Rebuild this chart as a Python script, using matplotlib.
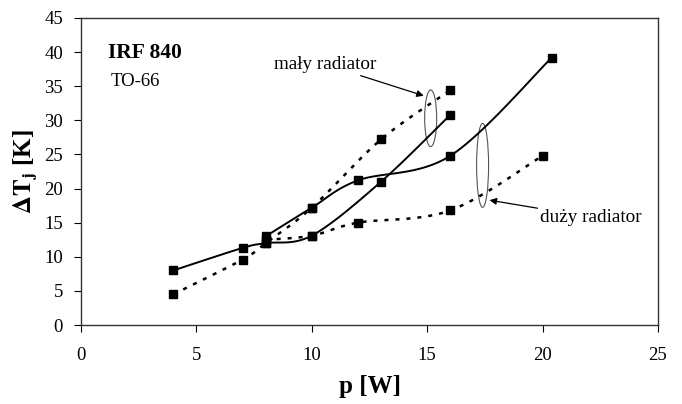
import numpy as np
import matplotlib
matplotlib.use("Agg")
import matplotlib.pyplot as plt
from matplotlib.patches import Ellipse

# values
maly_dot_x = [4, 7, 8, 10, 13, 16]
maly_dot_y = [4.5, 9.6, 12.0, 17.2, 27.2, 34.4]
maly_sol_x = [4, 7, 8, 10, 13, 16]
maly_sol_y = [8.0, 11.3, 12.0, 13.1, 21.0, 30.8]
duzy_sol_x = [8, 10, 12, 16, 20.4]
duzy_sol_y = [13.0, 17.2, 21.2, 24.8, 39.2]
duzy_dot_x = [8, 10, 12, 16, 20]
duzy_dot_y = [12.5, 13.1, 15.0, 16.8, 24.8]

x_ticks = [0, 5, 10, 15, 20, 25]
y_ticks = [0, 5, 10, 15, 20, 25, 30, 35, 40, 45]

plt.rcParams['font.family'] = ['Liberation Serif', 'DejaVu Serif']
plt.rcParams['mathtext.fontset'] = 'stix'


def smooth(xs, ys, n=30):
    """Excel-style smoothed line (Catmull-Rom as cubic Bezier)."""
    p = np.column_stack([xs, ys]).astype(float)
    p = np.vstack([p[0], p, p[-1]])
    t = np.linspace(0, 1, n)[:, None]
    out = []
    for i in range(1, len(p) - 2):
        p0, p1, p2, p3 = p[i - 1], p[i], p[i + 1], p[i + 2]
        c1 = p1 + (p2 - p0) / 6
        c2 = p2 - (p3 - p1) / 6
        seg = ((1 - t) ** 3) * p1 + 3 * ((1 - t) ** 2) * t * c1 \
            + 3 * (1 - t) * t ** 2 * c2 + t ** 3 * p2
        out.append(seg)
    seg = np.vstack(out)
    return seg[:, 0], seg[:, 1]


fig = plt.figure(figsize=(6.82, 4.04), dpi=100)
ax = fig.add_axes([0.1188, 0.1955, 0.846, 0.76])

dot = (0, (1.6, 2.8))
for xs, ys, ls, lw in [(maly_dot_x, maly_dot_y, dot, 1.8),
                       (maly_sol_x, maly_sol_y, '-', 1.4),
                       (duzy_sol_x, duzy_sol_y, '-', 1.4),
                       (duzy_dot_x, duzy_dot_y, dot, 1.8)]:
    sx, sy = smooth(xs, ys)
    ax.plot(sx, sy, color='black', linestyle=ls, linewidth=lw)
    ax.plot(xs, ys, 's', color='black', markersize=5.5)

ax.set_xlim(0, 25)
ax.set_ylim(0, 45)
ax.set_xticks(x_ticks)
ax.set_yticks(y_ticks)
ax.tick_params(direction='out', length=5, width=0.8, labelsize=13.5, pad=8)
ax.tick_params(axis='x', pad=11)
for s in ax.spines.values():
    s.set_linewidth(1.0)
    s.set_color('#333333')

ax.set_xlabel('p [W]', fontsize=18, fontweight='bold', labelpad=8)
ax.set_ylabel(r'$\mathbf{\Delta T_j}$ [K]', fontsize=18, fontweight='bold', labelpad=3)

ax.text(1.15, 39.8, 'IRF 840', fontsize=15.5, fontweight='bold', va='center')
ax.text(1.3, 35.7, 'TO-66', fontsize=13.5, va='center')

# annotation ellipses with arrows
ax.add_patch(Ellipse((15.15, 30.3), 0.52, 8.3, fill=False, edgecolor='#555555', linewidth=0.8))
ax.add_patch(Ellipse((17.4, 23.4), 0.52, 12.3, fill=False, edgecolor='#555555', linewidth=0.8))
ax.annotate('mały radiator', xy=(14.85, 33.6), xytext=(12.8, 38.2),
            fontsize=13.8, ha='right', va='center',
            arrowprops=dict(arrowstyle='-|>', color='black', lw=0.9,
                            shrinkA=0, shrinkB=0, mutation_scale=10))
ax.annotate('duży radiator', xy=(17.7, 18.3), xytext=(19.9, 15.8),
            fontsize=13.8, ha='left', va='center',
            arrowprops=dict(arrowstyle='-|>', color='black', lw=0.9,
                            shrinkA=0, shrinkB=0, mutation_scale=10))

fig.savefig('out.png', dpi=100)
